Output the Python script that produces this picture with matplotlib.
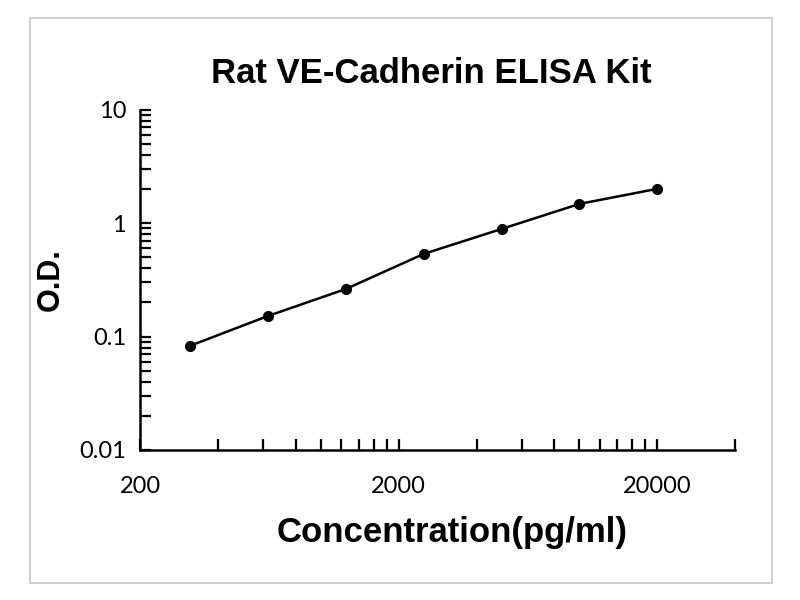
import matplotlib.pyplot as plt
from matplotlib.patches import Rectangle
from matplotlib.ticker import FixedLocator, NullFormatter

# standard curve
conc = [312.5, 625, 1250, 2500, 5000, 10000, 20000]
od = [0.083, 0.152, 0.263, 0.536, 0.89, 1.48, 2.01]

x_major = [200, 2000, 20000]
x_minor = [400, 600, 800, 1000, 1200, 1400, 1600, 1800,
           4000, 6000, 8000, 10000, 12000, 14000, 16000, 18000, 40000]
y_major = [0.01, 0.1, 1, 10]
y_labels = ["0.01", "0.1", "1", "10"]

fig = plt.figure(figsize=(8, 6), dpi=100)
ax = fig.add_axes([0.175, 0.25, 0.744, 0.567])

# chart area border
fig.patches.append(Rectangle((0.038, 0.028), 0.927, 0.942, transform=fig.transFigure,
                             fill=False, edgecolor="#c8c8c8", linewidth=1.2))

ax.plot(conc, od, color="black", linewidth=1.8, marker="o", markersize=7)

ax.set_xscale("log")
ax.set_yscale("log")
ax.set_xlim(200, 40000)
ax.set_ylim(0.01, 10)

ax.xaxis.set_major_locator(FixedLocator(x_major))
ax.xaxis.set_minor_locator(FixedLocator(x_minor))
ax.set_xticklabels([str(v) for v in x_major])
ax.xaxis.set_minor_formatter(NullFormatter())
ax.yaxis.set_major_locator(FixedLocator(y_major))
ax.set_yticklabels(y_labels)
ax.yaxis.set_minor_formatter(NullFormatter())

for s in ["top", "right"]:
    ax.spines[s].set_visible(False)
for s in ["left", "bottom"]:
    ax.spines[s].set_linewidth(1.8)

ax.tick_params(which="both", direction="in", length=8, width=1.6)
ax.tick_params(axis="x", which="major", pad=19, labelsize=17)
ax.tick_params(axis="y", which="major", pad=10, labelsize=17)
for lab in ax.get_xticklabels() + ax.get_yticklabels():
    lab.set_family("Lato")

ax.set_title("Rat VE-Cadherin ELISA Kit", fontsize=25, fontweight="bold",
             family="Liberation Sans", pad=19, x=0.49)
ax.set_xlabel("Concentration(pg/ml)", fontsize=25, fontweight="bold",
              family="Liberation Sans", labelpad=12)
ax.xaxis.set_label_coords(0.525, -0.195)
ax.set_ylabel("O.D.", fontsize=22, fontweight="bold",
              family="Liberation Sans", labelpad=10)

fig.savefig("out.png", dpi=100)
